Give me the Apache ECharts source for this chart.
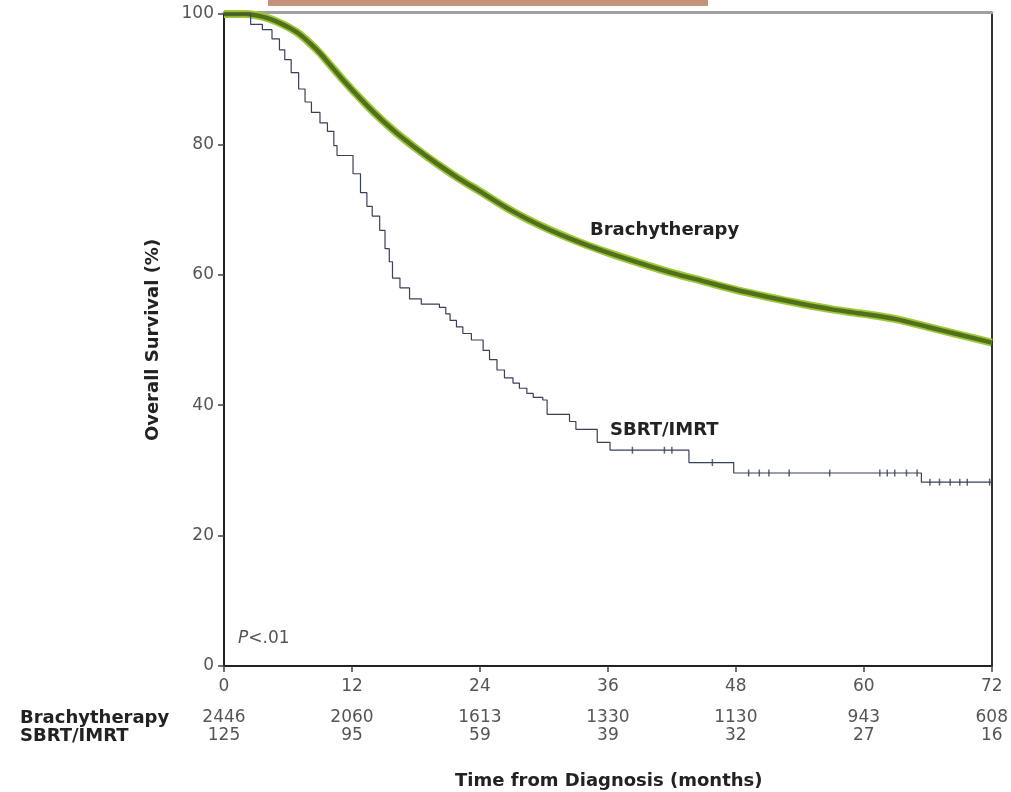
<!DOCTYPE html>
<html>
<head>
<meta charset="utf-8">
<title>Overall survival</title>
<script src="https://cdn.jsdelivr.net/npm/echarts@6/dist/echarts.min.js"></script>
<style>
  html, body { margin: 0; padding: 0; background: #fff; }
  #main { width: 1011px; height: 792px; }
</style>
</head>
<body>
<div id="main"></div>
<script>
// x ticks (months) and numbers at risk
const monthTicks = [0, 12, 24, 36, 48, 60, 72];
const brachyRisk = [2446, 2060, 1613, 1330, 1130, 943, 608];
const sbrtRisk = [125, 95, 59, 39, 32, 27, 16];

// Brachytherapy curve (large cohort, looks smooth)
const brachyMonths = [0, 2, 3, 4, 5, 6, 7, 8, 9, 10, 11, 12, 14, 16, 18, 20, 22, 24, 27, 30, 33, 36, 39, 42, 45, 48, 51, 54, 57, 60, 63, 66, 69, 72];
const brachySurv = [100, 100, 99.8, 99.4, 98.8, 98, 97, 95.6, 94, 92.1, 90.2, 88.4, 85, 82, 79.4, 77, 74.8, 72.8, 69.8, 67.3, 65.2, 63.4, 61.8, 60.3, 59, 57.7, 56.6, 55.6, 54.7, 54, 53.2, 52, 50.8, 49.6];

// SBRT/IMRT Kaplan-Meier steps (time where survival drops to value)
const sbrtMonths = [0, 2.5, 3.6, 4.5, 5.2, 5.7, 6.3, 7, 7.6, 8.2, 9, 9.7, 10.3, 10.6, 12.1, 12.8, 13.4, 13.9, 14.6, 15.1, 15.5, 15.8, 16.5, 17.4, 18.5, 20.2, 20.8, 21.2, 21.8, 22.4, 23.2, 24.3, 24.9, 25.6, 26.3, 27.1, 27.7, 28.4, 29, 29.9, 30.3, 32.4, 33, 35, 36.2, 43.6, 47.8, 65.4, 72];
const sbrtSurv = [100, 98.4, 97.6, 96.2, 94.5, 93, 91, 88.5, 86.5, 84.9, 83.3, 82, 79.8, 78.3, 75.5, 72.6, 70.5, 69, 66.8, 64, 62, 59.5, 58, 56.3, 55.5, 55, 54, 53, 52, 51, 50, 48.4, 47, 45.4, 44.2, 43.4, 42.6, 41.8, 41.2, 40.8, 38.6, 37.5, 36.3, 34.3, 33.1, 31.2, 29.6, 28.2, 28.2];

// censoring marks on SBRT/IMRT
const censorMonths = [38.3, 41.3, 42.0, 45.8, 49.2, 50.2, 51.1, 53.0, 56.8, 61.5, 62.2, 62.9, 64.0, 65.0, 66.2, 67.1, 68.1, 69.0, 69.7, 71.8];
const censorSurv = [33.1, 33.1, 33.1, 31.2, 29.6, 29.6, 29.6, 29.6, 29.6, 29.6, 29.6, 29.6, 29.6, 29.6, 28.2, 28.2, 28.2, 28.2, 28.2, 28.2];

const pairs = (xs, ys) => xs.map((x, i) => [x, ys[i]]);
const font = 'DejaVu Sans';

const myChart = echarts.init(document.getElementById('main'));

const hiddenRiskAxis = (offset, values) => ({
    type: 'value', min: 0, max: 72, interval: 12,
    position: 'bottom', offset: offset,
    axisLine: { show: false, onZero: false }, axisTick: { show: false }, splitLine: { show: false },
    axisLabel: {
        margin: 12, color: '#555', fontSize: 17, fontFamily: font,
        formatter: v => String(values[monthTicks.indexOf(v)])
    }
});

const option = {
    animation: false,
    backgroundColor: '#fff',
    grid: { left: 224, right: 19, top: 14, bottom: 126 },
    xAxis: [
        {
            type: 'value', min: 0, max: 72, interval: 12, position: 'bottom',
            axisLine: { onZero: false, lineStyle: { color: '#222', width: 2 } },
            axisTick: { show: true, length: 6, lineStyle: { color: '#444', width: 1.5 } },
            splitLine: { show: false },
            axisLabel: { margin: 12, color: '#555', fontSize: 17, fontFamily: font }
        },
        {
            // top frame line
            type: 'value', min: 0, max: 72, position: 'top', offset: 2,
            axisLine: { onZero: false, lineStyle: { color: '#a0a0a0', width: 3 } },
            axisTick: { show: false }, axisLabel: { show: false }, splitLine: { show: false }
        },
        hiddenRiskAxis(31, brachyRisk),
        hiddenRiskAxis(49, sbrtRisk)
    ],
    yAxis: [
        {
            type: 'value', min: 0, max: 100, interval: 20, position: 'left',
            name: 'Overall Survival (%)', nameLocation: 'middle', nameGap: 62,
            nameTextStyle: { fontFamily: font, fontWeight: 'bold', fontSize: 18, color: '#222' },
            axisLine: { onZero: false, lineStyle: { color: '#222', width: 2 } },
            axisTick: { show: true, length: 6, lineStyle: { color: '#444', width: 1.5 } },
            splitLine: { show: false },
            axisLabel: { margin: 10, color: '#555', fontSize: 17, fontFamily: font }
        },
        {
            // right frame line
            type: 'value', min: 0, max: 100, position: 'right',
            axisLine: { show: true, onZero: false, lineStyle: { color: '#333', width: 2 } },
            axisTick: { show: false }, axisLabel: { show: false }, splitLine: { show: false }
        }
    ],
    graphic: [
        { type: 'rect', left: 268, top: 0, shape: { width: 440, height: 6 }, style: { fill: '#c4917d' } },
        { type: 'text', left: 20, top: 709, style: { text: 'Brachytherapy', fontFamily: font, fontWeight: 'bold', fontSize: 18, fill: '#222' } },
        { type: 'text', left: 20, top: 727, style: { text: 'SBRT/IMRT', fontFamily: font, fontWeight: 'bold', fontSize: 18, fill: '#222' } },
        { type: 'text', left: 455, top: 772, style: { text: 'Time from Diagnosis (months)', fontFamily: font, fontWeight: 'bold', fontSize: 18, fill: '#222' } },
        { type: 'text', left: 590, top: 221, style: { text: 'Brachytherapy', fontFamily: font, fontWeight: 'bold', fontSize: 18, fill: '#222' } },
        { type: 'text', left: 610, top: 421, style: { text: 'SBRT/IMRT', fontFamily: font, fontWeight: 'bold', fontSize: 18, fill: '#222' } },
        {
            type: 'text', left: 238, top: 630,
            style: {
                text: '{i|P}<.01', fontFamily: font, fontSize: 17, fill: '#555',
                rich: { i: { fontStyle: 'italic', fontFamily: font, fontSize: 17, fill: '#555' } }
            }
        }
    ],
    series: [
        {
            name: 'Brachytherapy halo', type: 'line', showSymbol: false, smooth: 0.3,
            data: pairs(brachyMonths, brachySurv),
            lineStyle: { color: '#9cc83a', width: 8 }, z: 2
        },
        {
            name: 'Brachytherapy', type: 'line', showSymbol: false, smooth: 0.3,
            data: pairs(brachyMonths, brachySurv),
            lineStyle: { color: '#52701c', width: 4.5 }, z: 3
        },
        {
            name: 'SBRT/IMRT', type: 'line', step: 'end', showSymbol: false,
            data: pairs(sbrtMonths, sbrtSurv),
            lineStyle: { color: '#3a3f5a', width: 1.2 }, z: 4
        },
        {
            name: 'censored', type: 'scatter', symbol: 'rect', symbolSize: [1.5, 7],
            data: pairs(censorMonths, censorSurv),
            itemStyle: { color: '#3a3f5a' }, z: 4
        }
    ]
};
myChart.setOption(option);
</script>
</body>
</html>
